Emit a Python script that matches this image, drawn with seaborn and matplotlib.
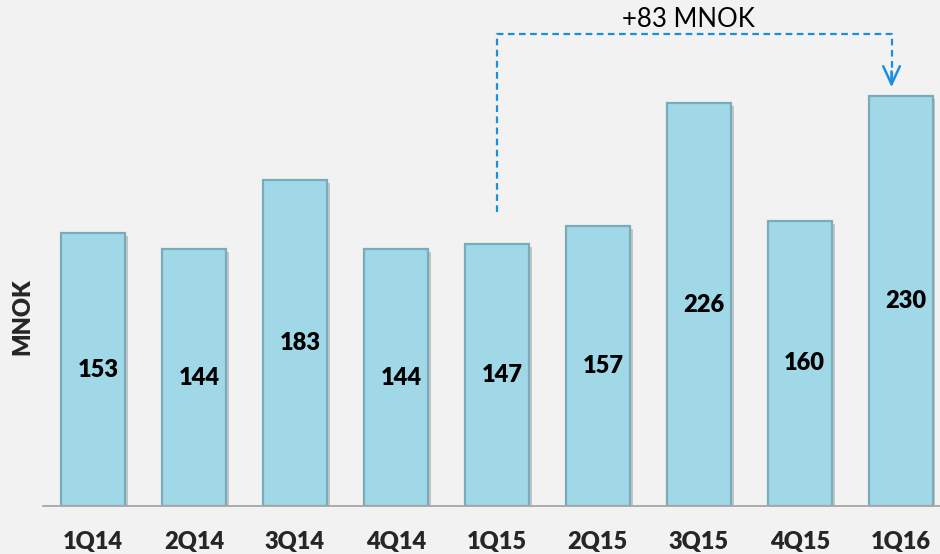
import matplotlib
matplotlib.use("Agg")
import matplotlib.pyplot as plt
import matplotlib.patheffects as pe
import seaborn as sns
import pandas as pd

quarters = ["1Q14", "2Q14", "3Q14", "4Q14", "1Q15", "2Q15", "3Q15", "4Q15", "1Q16"]
values = [153, 144, 183, 144, 147, 157, 226, 160, 230]
change_label = "+83 MNOK"
y_label = "MNOK"

sns.set_style("white")
plt.rcParams["font.family"] = ["Lato", "DejaVu Sans"]

bg = "#f2f2f2"
fig = plt.figure(figsize=(9.4, 5.54), dpi=100, facecolor=bg)
ax = fig.add_axes([43 / 940, 48 / 554, 897 / 940, 496 / 554])
ax.set_facecolor(bg)

df = pd.DataFrame({"q": quarters, "v": values})
sns.barplot(data=df, x="q", y="v", ax=ax, color="#a0d8e8", saturation=1,
            width=0.635, edgecolor="#78acbb", linewidth=1.6, zorder=2)

for p in ax.patches:
    p.set_path_effects([pe.SimplePatchShadow(offset=(2, -2), shadow_rgbFace="#9a9a9a", alpha=0.5),
                        pe.Normal()])

lbl_font = dict(fontsize=17, fontweight="heavy")
for i, v in enumerate(values):
    ax.text(i + 0.05, v / 2, str(v), ha="center", va="center",
            color="black", zorder=3, **lbl_font)

ax.set_xlim(-0.496, 8.39)
ax.set_ylim(0, 278.3)

for s in ["top", "right", "left"]:
    ax.spines[s].set_visible(False)
ax.spines["bottom"].set_color("#a6a6a6")
ax.spines["bottom"].set_linewidth(1.3)
ax.set_yticks([])
ax.tick_params(axis="x", length=0, pad=18)
for t in ax.get_xticklabels():
    t.set_fontsize(17)
    t.set_fontweight("heavy")
ax.set_xlabel("")
ax.set_ylabel(y_label, **lbl_font)
ax.yaxis.set_label_coords(-0.011, 0.381)

# change annotation
blue = "#1a8ee0"
x0, x1 = 4, 7.91
y_start, y_top, y_tip = 165, 265, 233.4
ax.plot([x0, x0, x1, x1], [y_start, y_top, y_top, y_tip + 4], ls=(0, (3, 2)),
        color=blue, lw=1.6, clip_on=False, zorder=4)
ax.annotate("", xy=(x1, y_tip), xytext=(x1, y_tip + 12),
            arrowprops=dict(arrowstyle="->,head_width=0.6,head_length=1.3",
                            color=blue, lw=1.8), annotation_clip=False, zorder=4)
ax.text(5.897, 273.2, change_label, ha="center", va="center", fontsize=18.5,
        color="black")

fig.savefig("out.png", dpi=100, facecolor=bg)
